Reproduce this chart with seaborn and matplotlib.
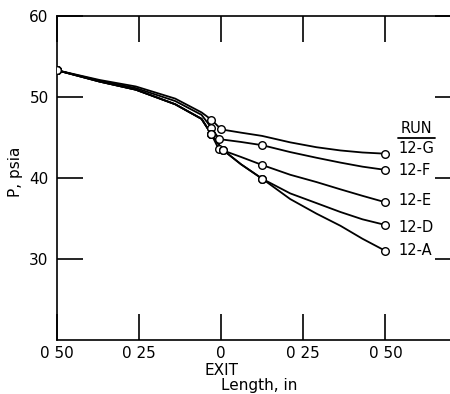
import matplotlib
matplotlib.use("Agg")
import matplotlib.pyplot as plt
import seaborn as sns
import pandas as pd
from matplotlib.lines import Line2D

sns.set_theme(style="white")
plt.rcParams['font.family'] = ['DejaVu Sans']

# Measured points (open circles) per run: position (in) and pressure (psia)
runs = ["12-G", "12-F", "12-E", "12-D", "12-A"]
pts_x = {
    "12-G": [-0.50, -0.030, 0.000, 0.50],
    "12-F": [-0.50, -0.030, -0.006, 0.125, 0.50],
    "12-E": [-0.50, -0.030, -0.008, 0.125, 0.50],
    "12-D": [-0.50, -0.030, 0.004, 0.125, 0.50],
    "12-A": [-0.50, -0.030, 0.004, 0.125, 0.50],
}
pts_y = {
    "12-G": [53.3, 47.2, 46.0, 43.0],
    "12-F": [53.3, 46.2, 44.8, 44.05, 41.0],
    "12-E": [53.3, 45.4, 43.6, 41.6, 37.0],
    "12-D": [53.3, 45.4, 43.5, 39.9, 34.2],
    "12-A": [53.3, 45.4, 43.5, 39.9, 31.0],
}

# Curve traces (faired lines through the points)
trace_x = {
    "12-G": [-0.50, -0.37, -0.26, -0.14, -0.06, -0.030, 0.000, 0.06, 0.124, 0.21, 0.29, 0.363, 0.43, 0.50],
    "12-F": [-0.50, -0.37, -0.26, -0.14, -0.06, -0.030, -0.006, 0.06, 0.125, 0.21, 0.29, 0.363, 0.43, 0.50],
    "12-E": [-0.50, -0.37, -0.26, -0.14, -0.06, -0.030, -0.008, 0.06, 0.125, 0.21, 0.29, 0.363, 0.43, 0.50],
    "12-D": [-0.50, -0.37, -0.26, -0.14, -0.06, -0.030, 0.004, 0.06, 0.125, 0.21, 0.29, 0.363, 0.43, 0.50],
    "12-A": [-0.50, -0.37, -0.26, -0.14, -0.06, -0.030, 0.004, 0.06, 0.125, 0.21, 0.29, 0.363, 0.43, 0.50],
}
trace_y = {
    "12-G": [53.3, 52.1, 51.3, 49.8, 48.1, 47.2, 46.0, 45.6, 45.2, 44.4, 43.8, 43.4, 43.15, 43.0],
    "12-F": [53.3, 52.0, 51.1, 49.5, 47.8, 46.2, 44.8, 44.45, 44.05, 43.2, 42.5, 41.9, 41.4, 41.0],
    "12-E": [53.3, 51.9, 50.9, 49.1, 47.3, 45.4, 43.6, 42.6, 41.6, 40.4, 39.5, 38.6, 37.8, 37.0],
    "12-D": [53.3, 51.9, 50.9, 49.1, 47.3, 45.4, 43.5, 41.7, 39.9, 38.1, 36.9, 35.8, 34.9, 34.2],
    "12-A": [53.3, 51.9, 50.9, 49.1, 47.3, 45.4, 43.5, 41.7, 39.9, 37.4, 35.6, 34.1, 32.5, 31.0],
}

x_ticks = [-0.50, -0.25, 0.0, 0.25, 0.50]
x_tick_labels = ["0 50", "0 25", "0\nEXIT", "0 25", "0 50"]
y_ticks = [30, 40, 50, 60]
label_y = {"12-G": 43.6, "12-F": 40.9, "12-E": 37.25, "12-D": 33.9, "12-A": 31.0}

traces = pd.DataFrame([
    {"run": r, "x": x, "y": y, "order": i}
    for r in runs for i, (x, y) in enumerate(zip(trace_x[r], trace_y[r]))
])
points = pd.DataFrame([
    {"run": r, "x": x, "y": y}
    for r in runs for x, y in zip(pts_x[r], pts_y[r])
])

fig = plt.figure(figsize=(4.5, 3.94), dpi=100)
ax = fig.add_axes([57 / 450, 1 - 340 / 394, (461 - 57) / 450, (340 - 16) / 394])

pal = {r: "black" for r in runs}
sns.lineplot(data=traces, x="x", y="y", hue="run", units="run", estimator=None,
             sort=False, palette=pal, linewidth=1.3, legend=False, ax=ax)
sns.scatterplot(data=points, x="x", y="y", hue="run", palette=pal, legend=False,
                marker="o", s=30, facecolor="white", edgecolor="black",
                linewidth=1.0, zorder=5, ax=ax)
for coll in ax.collections:
    coll.set_facecolor("white")
    coll.set_edgecolor("black")

ax.set_xlim(-0.5, 0.73)
ax.set_ylim(20, 60)
ax.set_xticks(x_ticks)
ax.set_xticklabels(x_tick_labels)
ax.set_yticks(y_ticks)
ax.set_yticklabels([str(v) for v in y_ticks])
ax.tick_params(axis="both", direction="in", length=19, width=1.2, color="black",
               top=True, right=True, bottom=True, left=True, labelsize=11,
               labelcolor="black")
ax.tick_params(axis="x", pad=4)
ax.tick_params(axis="y", pad=6)
for s in ["left", "bottom", "top"]:
    ax.spines[s].set_color("black")
    ax.spines[s].set_linewidth(1.2)
ax.spines["right"].set_visible(False)

ax.set_xlabel("Length, in", fontsize=11, color="black", labelpad=0)
ax.set_ylabel("P, psia", fontsize=11, color="black")
ax.yaxis.set_label_coords(-0.085, 0.52)

tx = 0.54
ax.text(tx + 0.055, 46.1, "RUN", fontsize=10.5, ha="center", va="center", color="black")
ax.add_line(Line2D([tx - 0.003, tx + 0.11], [45.0, 45.0], color="black", lw=1.3))
for r in runs:
    ax.text(tx, label_y[r], r, fontsize=10.5, ha="left", va="center", color="black")

fig.savefig("out.png", dpi=100)
